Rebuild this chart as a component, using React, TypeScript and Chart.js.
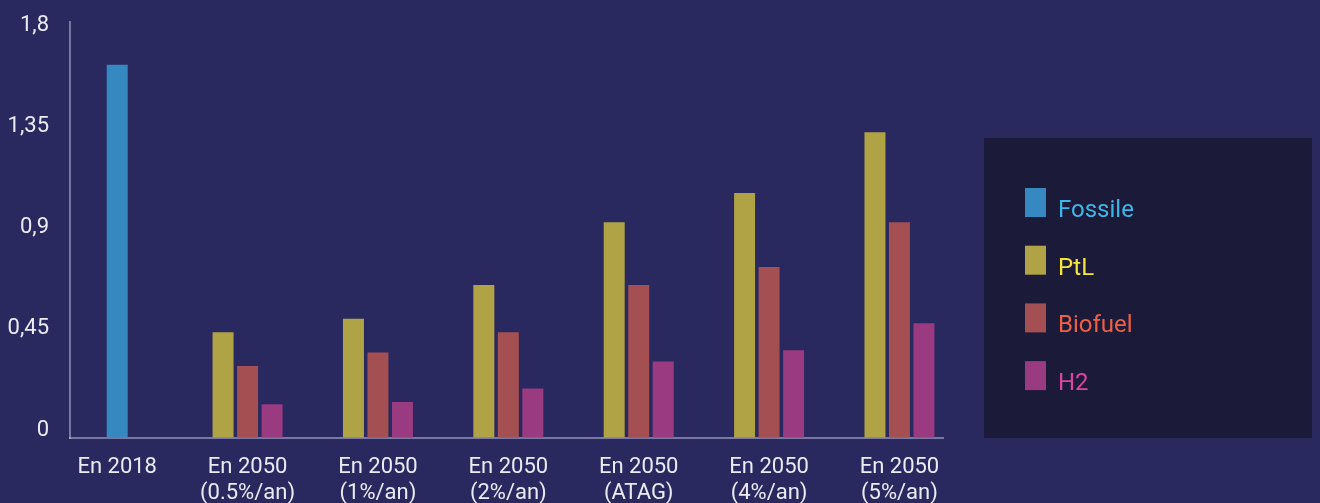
import React, { useEffect, useRef } from 'react';
import { Chart, registerables } from 'chart.js';

Chart.register(...registerables);

// ---- Data ----
const xTickLabels: (string | string[])[] = [
  ['En 2018'],
  ['En 2050', '(0.5%/an)'],
  ['En 2050', '(1%/an)'],
  ['En 2050', '(2%/an)'],
  ['En 2050', '(ATAG)'],
  ['En 2050', '(4%/an)'],
  ['En 2050', '(5%/an)'],
];
const seriesNames = ['Fossile', 'PtL', 'Biofuel', 'H2'];
const fossile = [1.66, null, null, null, null, null, null];
const ptl = [null, 0.47, 0.53, 0.68, 0.96, 1.09, 1.36];
const biofuel = [null, 0.32, 0.38, 0.47, 0.68, 0.76, 0.96];
const h2 = [null, 0.15, 0.16, 0.22, 0.34, 0.39, 0.51];
const yTickValues = [0, 0.45, 0.9, 1.35, 1.8];
const yTickLabels = ['0', '0,45', '0,9', '1,35', '1,8'];

const seriesValues = [fossile, ptl, biofuel, h2];
const barColors = ['#3589c0', '#b0a346', '#a44f51', '#9a3a80'];
const legendTextColors = ['#3fb6e8', '#f5e53a', '#ec6046', '#d8479f'];

const BG = '#29295f';
const PANEL = '#1b1a38';
const TEXT = '#ecebf4';
const AXIS = 'rgba(200,200,232,0.5)';

const legendPanel = {
  id: 'legendPanel',
  afterDraw(chart: any) {
    const { ctx, chartArea } = chart;
    const left = chartArea.right + 41;
    const right = chart.width - 8;
    const bottom = chartArea.bottom;
    const top = bottom - 300;
    ctx.save();
    ctx.fillStyle = PANEL;
    ctx.fillRect(left, top, right - left, bottom - top);
    chart.data.datasets.forEach((ds: any, i: number) => {
      const y = top + 50 + i * 57.7;
      ctx.fillStyle = ds.backgroundColor;
      ctx.fillRect(left + 41, y, 21, 29);
      ctx.fillStyle = legendTextColors[i];
      ctx.font = '400 24px Roboto';
      ctx.textBaseline = 'alphabetic';
      ctx.textAlign = 'left';
      ctx.fillText(ds.label, left + 74, y + 29);
    });
    ctx.restore();
  },
};

export default function App() {
  const ref = useRef<HTMLCanvasElement | null>(null);

  useEffect(() => {
    document.documentElement.style.background = BG;
    document.body.style.margin = '0';
    document.body.style.background = BG;
    const canvas = ref.current;
    if (!canvas) return;
    Chart.defaults.font.family = 'Roboto';
    const chart = new Chart(canvas, {
      type: 'bar',
      data: {
        datasets: seriesNames.map((name, i) => ({
          label: name,
          data: seriesValues[i].map((v, j) => ({ x: j, y: v })) as any,
          backgroundColor: barColors[i],
          skipNull: true,
          categoryPercentage: 0.5637,
          barPercentage: 0.857,
          maxBarThickness: 21,
        })),
      },
      options: {
        animation: false,
        responsive: false,
        devicePixelRatio: 1,
        layout: { padding: { top: 22, right: 377, bottom: 0, left: 0 } },
        plugins: { legend: { display: false }, tooltip: { enabled: false } },
        scales: {
          x: {
            type: 'linear',
            offset: false,
            min: -0.362,
            max: 6.334,
            z: 1,
            afterBuildTicks: (s: any) => {
              s.ticks = xTickLabels.map((_, i) => ({ value: i }));
            },
            afterFit: (s: any) => {
              s.height = 65;
              s.paddingLeft = 0;
              s.paddingRight = 0;
            },
            grid: { color: 'transparent', drawTicks: false, offset: false },
            border: { display: true, color: AXIS, width: 2 },
            ticks: {
              color: TEXT,
              font: { size: 22, lineHeight: 26 / 22 },
              padding: 16,
              autoSkip: false,
              maxRotation: 0,
              minRotation: 0,
              callback: (_v: any, i: number) => xTickLabels[i] as any,
            },
          },
          y: {
            min: 0,
            max: 1.85,
            z: 1,
            afterBuildTicks: (s: any) => {
              s.ticks = yTickValues.map((v) => ({ value: v }));
            },
            afterFit: (s: any) => {
              s.width = 70;
              s.paddingTop = 0;
              s.paddingBottom = 0;
            },
            grid: { color: 'transparent', drawTicks: false },
            border: { display: true, color: AXIS, width: 2 },
            ticks: {
              color: TEXT,
              font: { size: 22 },
              padding: 21,
              labelOffset: -8,
              callback: (_v: any, i: number) => yTickLabels[i],
            },
          },
        },
      } as any,
      plugins: [legendPanel],
    });
    return () => chart.destroy();
  }, []);

  return (
    <div style={{ width: 1320, height: 503, background: BG, overflow: 'hidden' }}>
      <canvas ref={ref} width={1320} height={503} style={{ display: 'block' }} />
    </div>
  );
}
